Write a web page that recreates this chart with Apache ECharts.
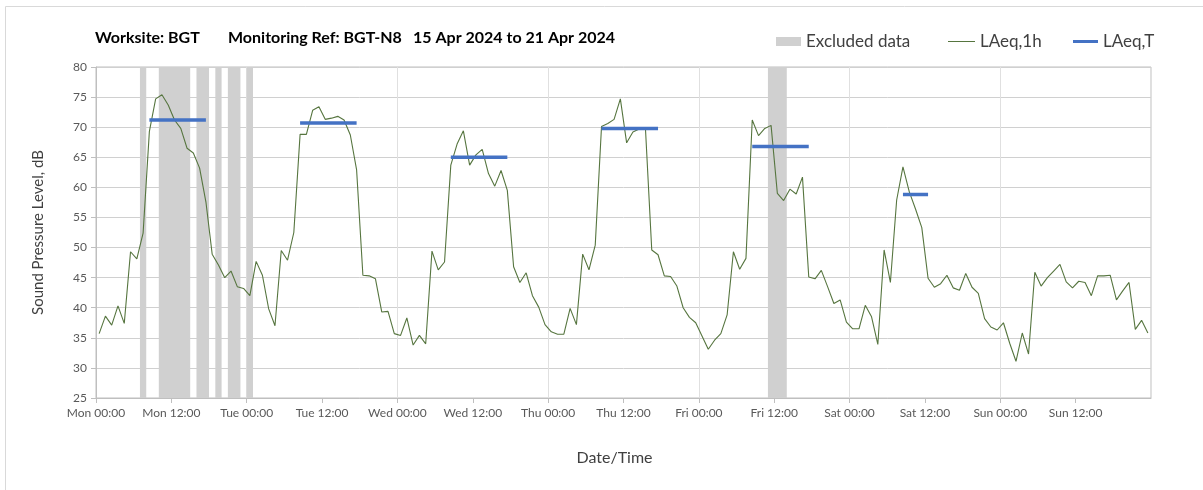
<!DOCTYPE html>
<html>
<head>
<meta charset="utf-8">
<script src="https://cdn.jsdelivr.net/npm/echarts@6/dist/echarts.min.js"></script>
<style>
  html, body { margin: 0; padding: 0; background: #fff; }
  #main { width: 1203px; height: 490px; }
</style>
</head>
<body>
<div id="main"></div>
<script>
// hourly LAeq,1h, one value per hour starting Mon 00:00 (plotted at mid-hour)
var laeq1h = [
  35.7, 38.6, 37.1, 40.3, 37.4, 49.3, 48.1, 52.4, 69.3, 74.7, 75.4, 73.7,
  71.2, 69.8, 66.5, 65.7, 63.2, 57.6, 48.9, 47.1, 45.0, 46.1, 43.5, 43.2,
  42.0, 47.7, 45.4, 39.8, 37.0, 49.5, 47.9, 52.5, 68.8, 68.8, 72.8, 73.4,
  71.3, 71.5, 71.8, 71.2, 68.7, 62.9, 45.4, 45.3, 44.8, 39.3, 39.4, 35.7,
  35.4, 38.3, 33.8, 35.4, 34.0, 49.4, 46.3, 47.6, 63.7, 67.2, 69.4, 63.7,
  65.4, 66.3, 62.3, 60.2, 62.8, 59.5, 46.8, 44.2, 45.8, 42.0, 40.1, 37.2,
  36.0, 35.6, 35.6, 39.9, 37.2, 48.9, 46.3, 50.4, 70.1, 70.6, 71.3, 74.7,
  67.4, 69.2, 69.7, 69.7, 49.6, 48.8, 45.3, 45.2, 43.6, 40.0, 38.4, 37.5,
  35.3, 33.1, 34.6, 35.7, 38.8, 49.3, 46.4, 48.2, 71.2, 68.6, 69.8, 70.3,
  59.0, 57.8, 59.7, 58.9, 61.7, 45.1, 44.8, 46.2, 43.5, 40.7, 41.3, 37.6,
  36.5, 36.5, 40.4, 38.5, 33.9, 49.6, 44.2, 57.9, 63.4, 59.3, 56.4, 53.3,
  44.9, 43.4, 44.0, 45.4, 43.3, 42.9, 45.7, 43.4, 42.4, 38.2, 36.8, 36.3,
  37.5, 34.1, 31.1, 35.8, 32.3, 45.9, 43.6, 45.0, 46.1, 47.2, 44.3, 43.3,
  44.4, 44.2, 42.0, 45.3, 45.3, 45.4, 41.3, 42.8, 44.2, 36.4, 37.9, 35.8
];

// LAeq,T over each daytime period (hours from Mon 00:00)
var laeqT_start = [8.5, 32.5, 56.5, 80.5, 104.5, 128.5];
var laeqT_end   = [17.5, 41.5, 65.5, 89.5, 113.5, 132.5];
var laeqT_value = [71.2, 70.7, 65.0, 69.8, 66.8, 58.8];

// excluded periods (hours from Mon 00:00)
var excluded_start = [7, 10, 16, 19, 21, 24, 107];
var excluded_end   = [8, 15, 18, 20, 23, 25, 110];

var dayNames = ['Mon', 'Tue', 'Wed', 'Thu', 'Fri', 'Sat', 'Sun'];

var lineData = laeq1h.map(function (v, i) { return [i + 0.5, v]; });

var tData = [];
for (var i = 0; i < laeqT_value.length; i++) {
  tData.push([laeqT_start[i], laeqT_value[i]]);
  tData.push([laeqT_end[i], laeqT_value[i]]);
  tData.push([laeqT_end[i], '-']);
}

var bands = excluded_start.map(function (s, i) {
  return [{ xAxis: s }, { xAxis: excluded_end[i] }];
});

var font = 'Lato, "Open Sans", sans-serif';
var titleText = { fontFamily: font, fontSize: 16, fontWeight: 'bold', color: '#000' };
var legendText = { fontFamily: font, fontSize: 17, color: '#404040' };

var myChart = echarts.init(document.getElementById('main'));
myChart.setOption({
  animation: false,
  textStyle: { fontFamily: font },
  graphic: [{
    type: 'rect',
    shape: { x: 5.5, y: 6.5, width: 1300, height: 600 },
    style: { fill: 'none', stroke: '#d9d9d9', lineWidth: 1 },
    silent: true
  }],
  title: [
    { text: 'Worksite: BGT', left: 95, top: 30, padding: 0, textStyle: titleText },
    { text: 'Monitoring Ref: BGT-N8', left: 228, top: 30, padding: 0, textStyle: titleText },
    { text: '15 Apr 2024 to 21 Apr 2024', left: 413, top: 30, padding: 0, textStyle: titleText }
  ],
  legend: [{
    left: 776, top: 33, padding: 0, itemWidth: 25, itemHeight: 9,
    textStyle: legendText,
    data: [{ name: 'Excluded data', icon: 'rect' }]
  }, {
    left: 948, top: 33, padding: 0, itemWidth: 27, itemHeight: 1,
    textStyle: legendText,
    data: [{ name: 'LAeq,1h', icon: 'rect' }]
  }, {
    left: 1073, top: 33, padding: 0, itemWidth: 25, itemHeight: 3,
    textStyle: legendText,
    data: [{ name: 'LAeq,T', icon: 'rect' }]
  }],
  grid: {
    left: 96, right: 52, top: 67, bottom: 92,
    show: true, borderColor: '#bfbfbf', borderWidth: 1
  },
  xAxis: [{
    type: 'value',
    min: 0, max: 168, interval: 12,
    name: 'Date/Time',
    nameLocation: 'middle',
    nameGap: 52,
    nameTextStyle: { fontFamily: font, fontSize: 16, color: '#404040', padding: [0, 18, 0, 0] },
    axisLine: { lineStyle: { color: '#bfbfbf' } },
    axisTick: { length: 5, lineStyle: { color: '#bfbfbf' } },
    axisLabel: {
      color: '#595959', fontSize: 12, margin: 9, showMaxLabel: false,
      formatter: function (h) {
        var d = Math.floor(h / 24), hr = h % 24;
        if (d > 6) return '';
        return dayNames[d] + ' ' + (hr < 10 ? '0' : '') + hr + ':00';
      }
    },
    splitLine: { show: false }
  }, {
    type: 'value',
    min: 0, max: 168, interval: 24,
    position: 'bottom',
    axisLine: { show: false }, axisTick: { show: false }, axisLabel: { show: false },
    splitLine: { show: true, lineStyle: { color: '#e0e0e0' } }
  }],
  yAxis: {
    type: 'value',
    min: 25, max: 80, interval: 5,
    name: 'Sound Pressure Level, dB',
    nameLocation: 'middle',
    nameGap: 50,
    nameTextStyle: { fontFamily: font, fontSize: 15, color: '#404040' },
    axisLine: { show: true, lineStyle: { color: '#bfbfbf' } },
    axisTick: { show: true, length: 5, lineStyle: { color: '#bfbfbf' } },
    axisLabel: { color: '#595959', fontSize: 12, margin: 9 },
    splitLine: { lineStyle: { color: '#d0d0d0' } }
  },
  series: [{
    name: 'Excluded data',
    type: 'line',
    data: [],
    color: '#d0d0d0',
    z: 1,
    markArea: {
      silent: true,
      itemStyle: { color: '#d0d0d0', opacity: 1 },
      data: bands
    }
  }, {
    name: 'LAeq,1h',
    type: 'line',
    data: lineData,
    symbol: 'none',
    color: '#56753f',
    lineStyle: { width: 1.1, color: '#56753f' },
    z: 3
  }, {
    name: 'LAeq,T',
    type: 'line',
    data: tData,
    symbol: 'none',
    connectNulls: false,
    color: '#4472c4',
    lineStyle: { width: 3.5, color: '#4472c4' },
    z: 4
  }]
});
</script>
</body>
</html>
